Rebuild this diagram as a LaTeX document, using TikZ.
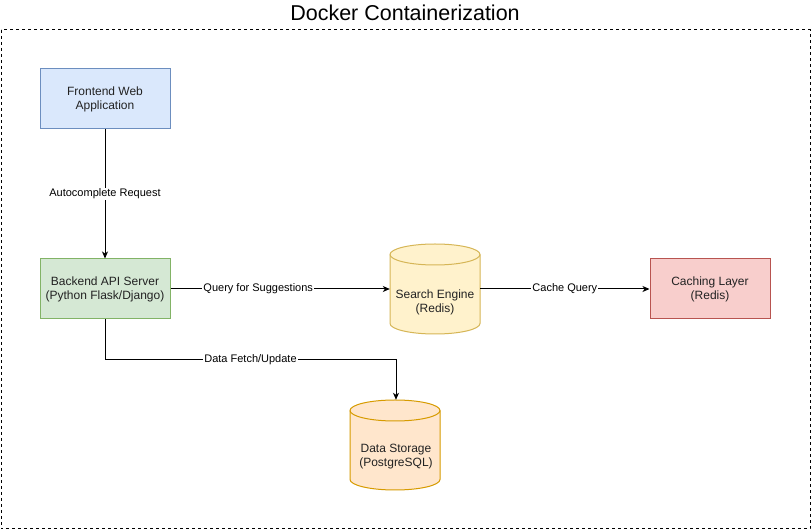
\documentclass[tikz,border=0pt]{standalone}
\usepackage{fontspec}
\setmainfont{Liberation Sans}
\usetikzlibrary{arrows.meta}
\definecolor{feFill}{HTML}{DAE8FC}\definecolor{feLine}{HTML}{6C8EBF}
\definecolor{beFill}{HTML}{D5E8D4}\definecolor{beLine}{HTML}{82B366}
\definecolor{seFill}{HTML}{FFF2CC}\definecolor{seLine}{HTML}{D6B656}
\definecolor{dsFill}{HTML}{FFE6CC}\definecolor{dsLine}{HTML}{D79B00}
\definecolor{clFill}{HTML}{F8CECC}\definecolor{clLine}{HTML}{B85450}
\definecolor{txt}{HTML}{222222}
\begin{document}
\begin{tikzpicture}[x=1pt,y=1pt,
  box/.style={rectangle, draw, line width=1pt, minimum width=130pt, minimum height=60pt,
    align=center, font=\fontsize{12}{14}\selectfont, text=txt, inner sep=0pt},
  cylbox/.style={rectangle, minimum width=90pt, minimum height=90pt, inner sep=0pt},
  cyltext/.style={align=center, font=\fontsize{12}{14}\selectfont, text=txt, inner sep=0pt},
  lbl/.style={fill=white, inner sep=1pt, font=\fontsize{11}{13}\selectfont},
  arr/.style={draw, line width=1pt, -{Stealth[length=7pt,width=6pt,inset=2pt]}}]
\useasboundingbox (0,0) rectangle (812,530);
\fill[white] (0,0) rectangle (812,530);
% container
\draw[line width=1pt, dash pattern=on 3pt off 3pt] (1,500) rectangle (810,1);
\node[anchor=base, font=\fontsize{21.5}{24}\selectfont, inner sep=0pt] (title) at (405,509) {Docker Containerization};
% cylinders
\filldraw[line width=1pt, draw=seLine, fill=seFill] (390,275.5) -- (390,206.5)
  arc[start angle=180,end angle=360,x radius=45,y radius=10.5] -- (480,275.5)
  arc[start angle=0,end angle=180,x radius=45,y radius=10.5] -- cycle;
\draw[line width=1pt, draw=seLine] (390,275.5) arc[start angle=180,end angle=360,x radius=45,y radius=10.5];
\filldraw[line width=1pt, draw=dsLine, fill=dsFill] (350,119.5) -- (350,50.5)
  arc[start angle=180,end angle=360,x radius=45,y radius=10.5] -- (440,119.5)
  arc[start angle=0,end angle=180,x radius=45,y radius=10.5] -- cycle;
\draw[line width=1pt, draw=dsLine] (350,119.5) arc[start angle=180,end angle=360,x radius=45,y radius=10.5];
% nodes
\node[box, draw=feLine, fill=feFill] (fe) at (105,431) {Frontend Web\\Application};
\node[box, draw=beLine, fill=beFill] (be) at (105,241) {Backend API Server\\(Python Flask/Django)};
\node[box, draw=clLine, fill=clFill, minimum width=120pt] (cl) at (710,241) {Caching Layer\\(Redis)};
\node[cylbox, label={[cyltext, yshift=-13pt]center:{Search Engine\\(Redis)}}] (se) at (435,241) {};
\node[cylbox, label={[cyltext, yshift=-12pt]center:{Data Storage\\(PostgreSQL)}}] (ds) at (396,85) {};
% connectors
\draw[arr] (fe.south) -- node[lbl] {Autocomplete Request} (be.north);
\draw[arr] (be.east) -- node[lbl, pos=0.4] {Query for Suggestions} (se.west);
\draw[arr] (se.east) -- node[lbl] {Cache Query} (cl.west);
\draw[arr] (be.south) -- ++(0,-40) -| node[lbl, pos=0.25] {Data Fetch/Update} (ds.north);
\end{tikzpicture}
\end{document}
